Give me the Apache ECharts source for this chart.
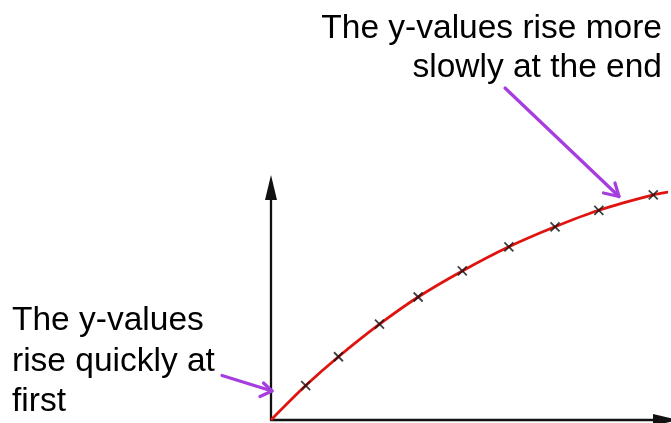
<!DOCTYPE html>
<html>
<head>
<meta charset="utf-8">
<script src="https://cdn.jsdelivr.net/npm/echarts@6/dist/echarts.min.js"></script>
<style>
html,body{margin:0;padding:0;background:#fff;}
#chart{width:671px;height:423px;}
</style>
</head>
<body>
<div id="chart"></div>
<script>
// Measured points (marked with crosses)
const xValues = [8.8, 17.1, 27.5, 37.3, 48.5, 60.3, 72.0, 83.1, 96.9];
const yValues = [14.8, 27.2, 41.2, 52.9, 64.1, 74.5, 83.1, 90.2, 96.8];
// Curve runs from the origin through the points and on past the last one
const curveStart = [0, 0];
const curveEnd = [101.4, 98.2];
const noteTop = ['The y-values rise more', 'slowly at the end'];
const noteLeft = ['The y-values', 'rise quickly at', 'first'];

const points = xValues.map((x, i) => [x, yValues[i]]);
const curve = [curveStart].concat(points, [curveEnd]);

const chart = echarts.init(document.getElementById('chart'), null, {renderer: 'canvas'});
const FONT = '33.5px "Liberation Sans", Arial, Helvetica, sans-serif';
const PURPLE = '#a63ddf';

function textLine(txt, x, y, align) {
  return {type: 'text', x: x, y: y, z: 10,
    style: {text: txt, font: FONT, fill: '#000', textAlign: align, textVerticalAlign: 'top'}};
}
function arrow(x1, y1, x2, y2, a1, a2) {
  return [
    {type: 'line', z: 10, shape: {x1: x1, y1: y1, x2: x2, y2: y2},
      style: {stroke: PURPLE, lineWidth: 3.2, lineCap: 'round'}},
    {type: 'polyline', z: 10, shape: {points: [a1, [x2, y2], a2]},
      style: {stroke: PURPLE, lineWidth: 3.2, lineCap: 'round', lineJoin: 'round', fill: null}}
  ];
}

const graphics = [
  textLine(noteTop[0], 662, 12, 'right'),
  textLine(noteTop[1], 662, 51, 'right'),
  textLine(noteLeft[0], 12, 304, 'left'),
  textLine(noteLeft[1], 12, 345, 'left'),
  textLine(noteLeft[2], 12, 385, 'left')
].concat(
  arrow(505, 88, 619, 196.5, [603.5, 193], [615, 183]),
  arrow(222, 375.5, 272, 391, [260, 396.5], [263.5, 383])
);

chart.setOption({
  animation: false,
  backgroundColor: '#fff',
  grid: {left: 271, right: 5.5, top: 187.5, bottom: 3, containLabel: false},
  xAxis: {
    type: 'value', min: 0, max: 100,
    axisLine: {show: true, onZero: false, symbol: ['none', 'triangle'], symbolSize: [12, 25],
      lineStyle: {color: '#111', width: 2.3}},
    axisTick: {show: false}, axisLabel: {show: false}, splitLine: {show: false}
  },
  yAxis: {
    type: 'value', min: 0, max: 100,
    axisLine: {show: true, onZero: false, symbol: ['none', 'triangle'], symbolSize: [12, 25],
      lineStyle: {color: '#111', width: 2.3}},
    axisTick: {show: false}, axisLabel: {show: false}, splitLine: {show: false}
  },
  series: [
    {
      type: 'line', data: curve, smooth: 0.3, showSymbol: false,
      clip: false, lineStyle: {color: '#e0140f', width: 2.8}, z: 2
    },
    {
      type: 'scatter', data: points, z: 3,
      symbol: 'path://M0,0L10,10M10,0L0,10', symbolSize: 9,
      itemStyle: {color: 'none', borderColor: '#111', borderWidth: 1.8}
    }
  ],
  graphic: graphics
});
</script>
</body>
</html>
